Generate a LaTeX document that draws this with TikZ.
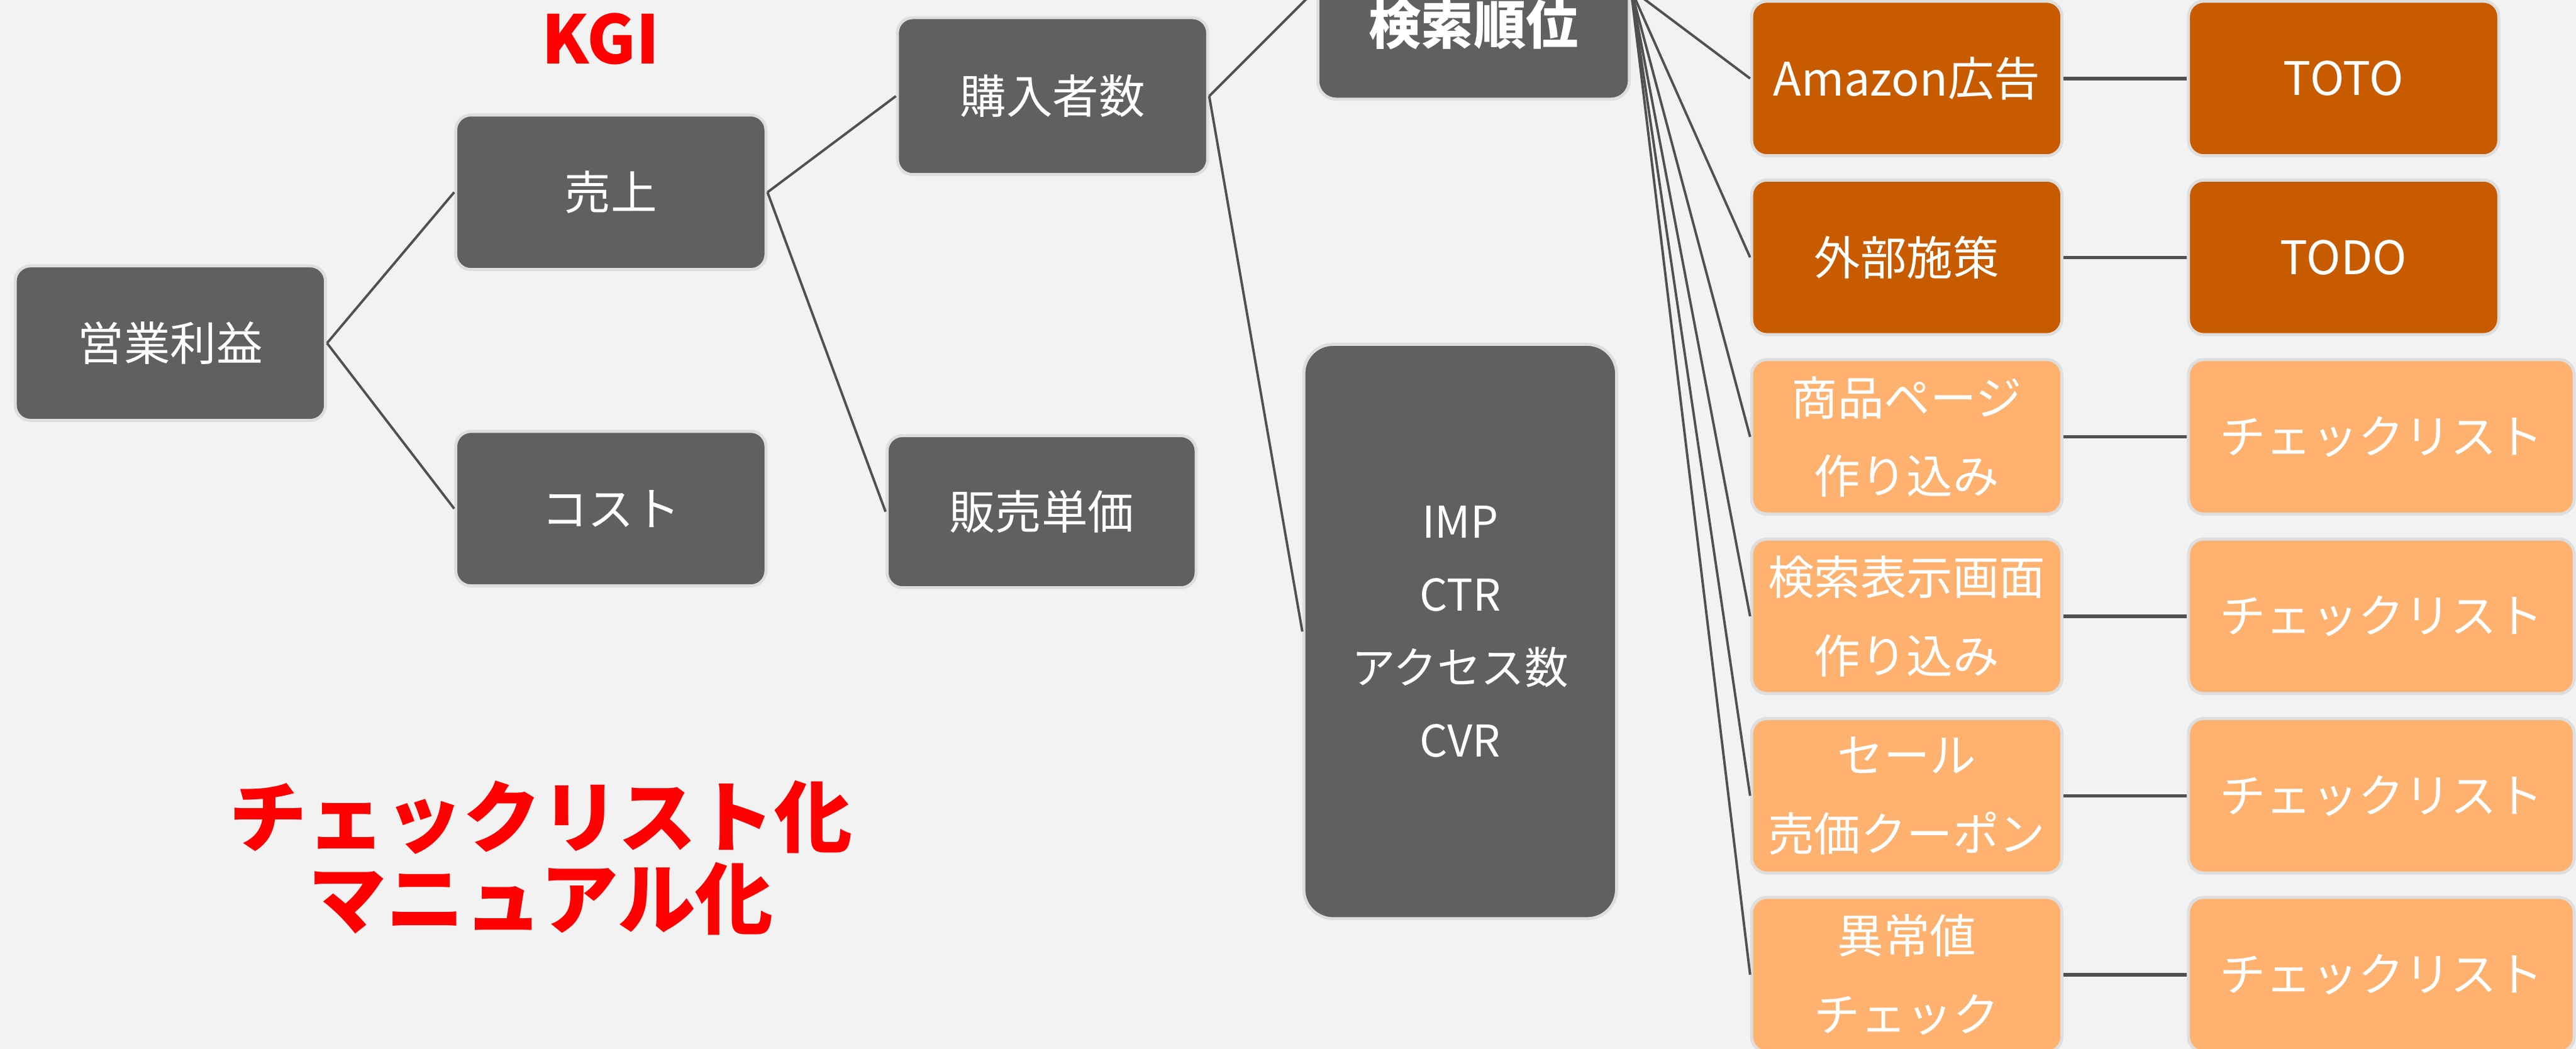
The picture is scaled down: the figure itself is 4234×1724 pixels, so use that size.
\documentclass[tikz,border=0pt]{standalone}
\usepackage{fontspec}
\setmainfont{Noto Sans CJK JP}
\definecolor{bgc}{HTML}{F2F2F2}
\definecolor{darkbox}{HTML}{606060}
\definecolor{rim}{HTML}{DEDEDE}
\definecolor{linec}{HTML}{505050}
\definecolor{orD}{HTML}{C85A00}
\definecolor{orL}{HTML}{FFB26F}
\definecolor{redt}{HTML}{FF0000}
\tikzset{
  basebox/.style={draw=rim, line width=2.5pt, rounded corners=12.5pt, text=white,
    inner sep=0pt, align=center, minimum width=255pt, minimum height=127pt,
    font=\fontsize{38pt}{64.5pt}\selectfont},
  greybox/.style={basebox, fill=darkbox},
  darkor/.style={basebox, fill=orD},
  lightor/.style={basebox, fill=orL},
  wideor/.style={basebox, fill=orL, minimum width=317pt},
  conn/.style={draw=linec, line width=2pt},
  hconn/.style={draw=linec, line width=2.8pt},
  redlabel/.style={text=redt, font=\bfseries\fontsize{55pt}{60pt}\selectfont, inner sep=0pt},
}
\begin{document}
\begin{tikzpicture}[x=0.5pt,y=-0.5pt]
\useasboundingbox (0,0) rectangle (4234,1724);
\fill[bgc] (0,0) rectangle (4234,1724);
\clip (0,0) rectangle (4234,1724);

% left tree
\node[greybox] (eigyo) at (280,564) {営業利益};
\node[greybox] (uriage) at (1004,316) {売上};
\node[greybox] (cost) at (1004,836) {コスト};
\node[greybox, minimum height=129pt] (kounyu) at (1730,158) {購入者数};
\node[greybox, minimum width=254pt, minimum height=125pt] (hanbai) at (1712,841) {販売単価};
\node[greybox, minimum width=256pt, minimum height=181pt, rounded corners=15pt,
  label={[text=white, font=\bfseries\fontsize{43pt}{50pt}\selectfont, yshift=-29pt]center:検索順位}] (kensaku) at (2422,-18) {};
\node[greybox, minimum width=257pt, minimum height=472pt, rounded corners=24pt,
  font=\fontsize{36pt}{60pt}\selectfont] (imp) at (2400,1038) {IMP\\CTR\\アクセス数\\CVR};

% right columns
\node[darkor] (o1) at (3134,129) {Amazon広告};
\node[darkor] (o2) at (3134,423) {外部施策};
\node[lightor] (o3) at (3134,718) {商品ページ\\作り込み};
\node[lightor] (o4) at (3134,1013) {検索表示画面\\作り込み};
\node[lightor] (o5) at (3134,1308) {セール\\売価クーポン};
\node[lightor] (o6) at (3134,1602) {異常値\\チェック};

\node[darkor] (c1) at (3852,129) {TOTO};
\node[darkor] (c2) at (3852,423) {TODO};
\node[wideor] (c3) at (3914,718) {チェックリスト};
\node[wideor] (c4) at (3914,1013) {チェックリスト};
\node[wideor] (c5) at (3914,1308) {チェックリスト};
\node[wideor] (c6) at (3914,1602) {チェックリスト};

% red labels
\node[redlabel] (kgi) at (987,64) {KGI};
\node[redlabel, align=center, font=\bfseries\fontsize{64pt}{67pt}\selectfont] (manual) at (889,1410) {チェックリスト化\\マニュアル化};

% connectors
\draw[conn] (eigyo.east) -- (uriage.west);
\draw[conn] (eigyo.east) -- (cost.west);
\draw[conn] (uriage.east) -- (kounyu.west);
\draw[conn] (uriage.east) -- (hanbai.west);
\draw[conn] (kounyu.east) -- (kensaku.west);
\draw[conn] (kounyu.east) -- (imp.west);
\foreach \i in {1,...,6} {
  \draw[conn] (kensaku.east) -- (o\i.west);
  \draw[hconn] (o\i.east) -- (c\i.west);
}
\end{tikzpicture}
\end{document}
